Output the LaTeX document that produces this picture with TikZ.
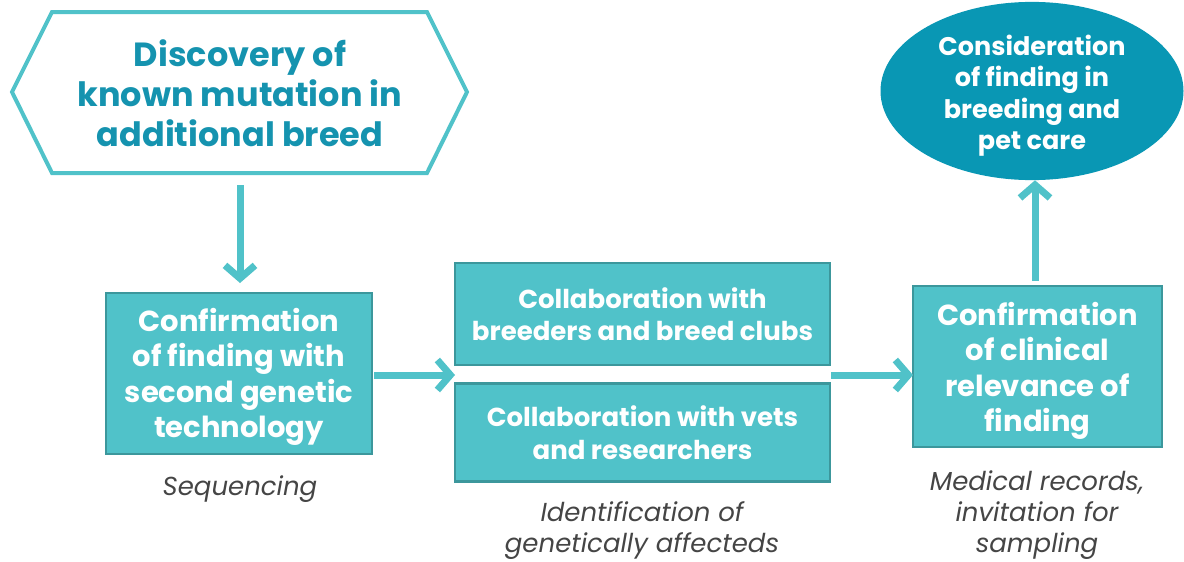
\documentclass[tikz,border=0pt]{standalone}
\usepackage{fontspec}
\setmainfont{Poppins}
\usetikzlibrary{arrows.meta,shapes.geometric}
\definecolor{boxfill}{HTML}{50C2C9}
\definecolor{boxline}{HTML}{3C979C}
\definecolor{hextext}{HTML}{1593AF}
\definecolor{ellfill}{HTML}{0997B4}
\definecolor{captext}{HTML}{454545}
\newcommand{\lowertext}[2]{\raisebox{-#1}[\height][\depth]{\begin{tabular}{@{}c@{}}#2\end{tabular}}}
\tikzset{
  boxnode/.style={rectangle, fill=boxfill, draw=boxline, line width=2.5pt, text=white, font=\fontsize{29}{35.5}\selectfont\bfseries, inner sep=0pt},
  smallbox/.style={boxnode, align=center, font=\fontsize{26}{32.5}\selectfont\bfseries},
  caption/.style={text=captext, font=\fontsize{26}{31}\selectfont\itshape, align=center, inner sep=0pt},
  flowarrow/.style={draw=boxfill, line width=7pt, -{Straight Barb[length=13pt,width=30pt,line join=miter]}},
}
\begin{document}
\begin{tikzpicture}[x=1pt,y=-1pt]
\useasboundingbox (0,0) rectangle (1184,562);
% hexagon
\draw[draw=boxfill, line width=4pt, line join=miter] (12,92) -- (52,12) -- (427,12) -- (467,92) -- (427,173) -- (52,173) -- cycle;
\node[text=hextext, font=\fontsize{33.5}{40}\selectfont\bfseries, align=center] (disc) at (240,93) {Discovery of\\known mutation in\\additional breed};
\coordinate (hexbot) at (240,185);
% box 1
\node[boxnode, minimum width=266pt, minimum height=161pt] (conf1) at (239,373.5) {\lowertext{4pt}{Confirmation\\of finding with\\second genetic\\technology}};
\node[caption] (seq) at (240,489) {Sequencing};
% boxes 2
\node[smallbox, minimum width=375pt, minimum height=102pt] (breed) at (642.5,314) {Collaboration with\\breeders and breed clubs};
\node[smallbox, minimum width=375pt, minimum height=98pt] (vets) at (642.5,432.5) {Collaboration with vets\\and researchers};
\node[caption] (ident) at (642,531) {Identification of\\genetically affecteds};
% box 3
\node[boxnode, minimum width=249pt, minimum height=161pt] (conf2) at (1037.5,366.5) {\lowertext{5pt}{Confirmation\\of clinical\\relevance of\\finding}};
\node[caption] (med) at (1037,515) {Medical records,\\invitation for\\sampling};
% ellipse
\node[ellipse, fill=ellfill, minimum width=303pt, minimum height=163pt, inner sep=0pt, text=white, font=\fontsize{25.5}{31.5}\selectfont\bfseries] (cons) at (1032,91) {\lowertext{5pt}{Consideration\\of finding in\\breeding and\\pet care}};
% arrows
\coordinate (a1) at (240,283);
\draw[flowarrow] (hexbot) -- (a1);
\coordinate (a2s) at ([xshift=1pt]conf1.east |- 0,375);
\coordinate (a2e) at (455,375);
\draw[flowarrow] (a2s) -- (a2e);
\coordinate (a3s) at (831,375);
\coordinate (a3e) at (913,375);
\draw[flowarrow] (a3s) -- (a3e);
\coordinate (a4s) at (1035,281);
\draw[flowarrow] (a4s) -- (cons.south -| a4s);
\end{tikzpicture}
\end{document}
